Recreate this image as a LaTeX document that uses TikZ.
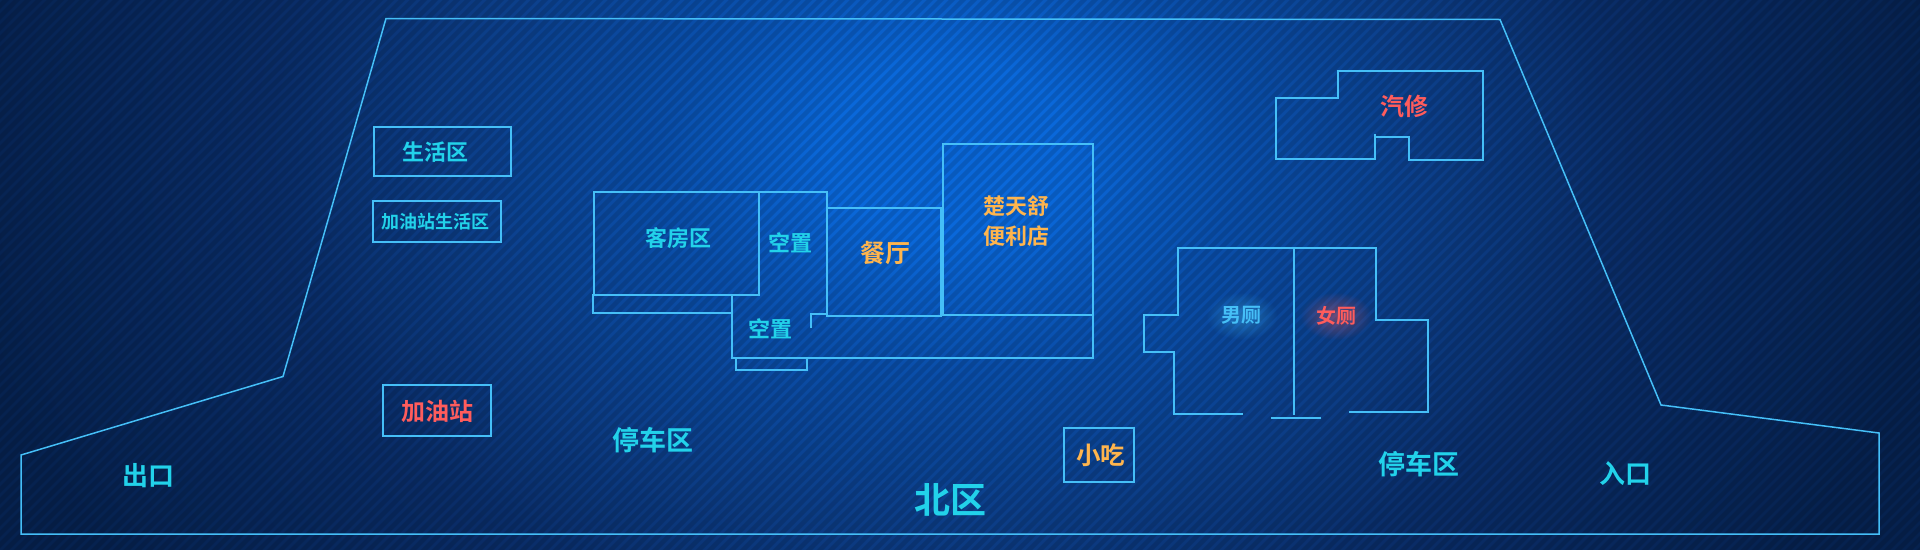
\documentclass[tikz,border=0pt]{standalone}
\usepackage{fontspec}
\setmainfont{Noto Sans CJK SC Bold}
\usetikzlibrary{calc,fadings}
\definecolor{wall}{HTML}{45BFF7}
\definecolor{cyantext}{HTML}{22D2EA}
\definecolor{redtext}{HTML}{FF5C5C}
\definecolor{orangetext}{HTML}{FFB54D}
\definecolor{bgC}{HTML}{0A68DA}
\definecolor{bgA}{HTML}{0A50AD}
\definecolor{bgM}{HTML}{0C3D86}
\definecolor{bgN}{HTML}{0A2D68}
\definecolor{bgE}{HTML}{06224F}
\pgfdeclareradialshading{bgshade}{\pgfpoint{0bp}{0bp}}{color(0bp)=(bgC);color(3bp)=(bgC);color(7bp)=(bgA);color(12.5bp)=(bgM);color(17bp)=(bgN);color(25bp)=(bgE);color(50bp)=(bgE)}
\tikzfading[name=softglow,inner color=transparent!0,outer color=transparent!100]
\tikzset{
 wallline/.style={draw=wall,line width=2pt,line join=miter},
 outerline/.style={draw=wall,line width=1.5pt,line join=miter},
 boxline/.style={draw=wall,line width=2pt,inner sep=0pt},
 lab/.style={text=cyantext,inner sep=0pt,align=center},
}
\newcommand{\fsz}[1]{\fontsize{#1}{#1}\selectfont}
\begin{document}
\begin{tikzpicture}[x=1pt,y=-1pt]
\useasboundingbox (0,0) rectangle (1920,549);
\begin{scope}
\clip (0,0) rectangle (1920,549);
\fill[bgE] (0,0) rectangle (1920,549);
\path[shading=bgshade] (-50,-600) rectangle (1950,900);
\foreach \i in {0,11,...,2480}{
 \draw[black,opacity=0.13,line width=4.5pt] (\i,-5) -- (\i-560,555);
}
\end{scope}
% outer
\draw[outerline] (21,455) -- (283,376.5) -- (386,18.5) -- (1500,19.5) -- (1661,405) -- (1879,433) -- (1879,534) -- (21,534) -- cycle;
% boxes
\node[boxline,minimum width=137pt,minimum height=49.5pt] (life) at (442.3,151.3) {};
\node[boxline,minimum width=128.5pt,minimum height=41.5pt] (gaslife) at (437,221.3) {};
\node[boxline,minimum width=108.5pt,minimum height=51pt] (gas) at (437,410.5) {};
\node[boxline,minimum width=70pt,minimum height=54pt] (snack) at (1098.5,455) {};
% main building
\draw[wallline] (594,192) rectangle (759,294.7);
\draw[wallline] (594,294.7) -- (592.8,294.7) -- (592.8,313) -- (732,313);
\draw[wallline] (759,192) -- (827,192) -- (827,208);
\draw[wallline] (732,294.7) -- (732,358) -- (1093.3,358) -- (1093.3,144) -- (942.9,144) -- (942.9,315) -- (1093.3,315);
\draw[wallline] (827,192) -- (827,316) -- (941.4,316) -- (941.4,208) -- (827,208);
\draw[wallline] (942,208) -- (942,316);
\draw[wallline] (811,328) -- (811,313.7) -- (827,313.7);
\draw[wallline] (736,358) -- (736,370) -- (807.3,370) -- (807.3,358);
% garage
\draw[wallline] (1375,134) -- (1375,158.7) -- (1276,158.7) -- (1276,98) -- (1338,98) -- (1338,71) -- (1483,71) -- (1483,159.7) -- (1409,159.7) -- (1409,137) -- (1375,137);
% toilets
\draw[wallline] (1349,411.7) -- (1428,411.7) -- (1428,320) -- (1376,320) -- (1376,248) -- (1178,248) -- (1178,315) -- (1143.7,315) -- (1143.7,352) -- (1174,352) -- (1174,414) -- (1242.7,414);
\draw[wallline] (1294,248) -- (1294,415);
\draw[wallline] (1271,418) -- (1321,418);
% text
\node[lab,font=\fsz{22}] (t1) at (435,151.7) {生活区};
\node[lab,font=\fsz{18}] (t2) at (435.7,222) {加油站生活区};
\node[lab,font=\fsz{24},text=redtext] (t3) at (437,411) {加油站};
\node[lab,font=\fsz{22}] (t4) at (678,238) {客房区};
\node[lab,font=\fsz{22}] (t5) at (790,243) {空置};
\node[lab,font=\fsz{22}] (t6) at (770,329) {空置};
\node[lab,font=\fsz{27}] (t7) at (652.6,440) {停车区};
\node[lab,font=\fsz{25},text=orangetext] (t8) at (885,253.5) {餐厅};
\node[lab,font=\fsz{22},text=orangetext] (t9) at (1016.5,205.7) {楚天舒};
\node[lab,font=\fsz{22},text=orangetext] (t10) at (1016.5,236) {便利店};
\node[lab,font=\fsz{24.5},text=orangetext] (t11) at (1100.8,455.5) {小吃};
\node[lab,font=\fsz{36}] (t12) at (950,499.6) {北区};
\node[lab,font=\fsz{27}] (t13) at (1419,464) {停车区};
\node[lab,font=\fsz{26}] (t14) at (148,475.7) {出口};
\node[lab,font=\fsz{26}] (t15) at (1625,474) {入口};
\node[lab,font=\fsz{24},text=redtext] (t16) at (1404,106) {汽修};
% glow
\fill[wall,opacity=0.4,path fading=softglow] (1241.7,316) ellipse (36pt and 24pt);
\fill[redtext,opacity=0.4,path fading=softglow] (1336,316) ellipse (36pt and 24pt);
\node[lab,font=\fsz{20},text=wall] (t17) at (1241.7,315.7) {男厕};
\node[lab,font=\fsz{20},text=redtext] (t18) at (1336,315.7) {女厕};
\end{tikzpicture}
\end{document}
